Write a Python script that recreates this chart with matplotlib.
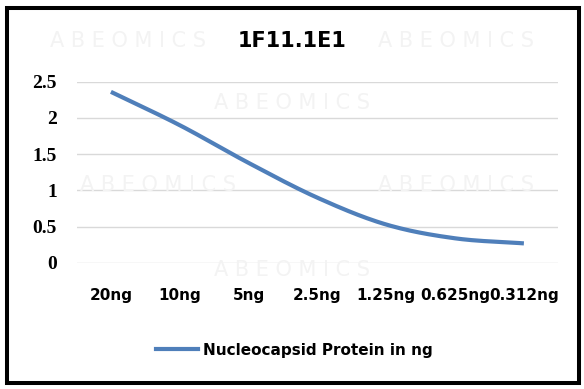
import numpy as np
import matplotlib.pyplot as plt
from matplotlib.patches import Rectangle
from matplotlib.lines import Line2D

# data
categories = ['20ng', '10ng', '5ng', '2.5ng', '1.25ng', '0.625ng', '0.312ng']
values = [2.36, 1.90, 1.38, 0.90, 0.53, 0.34, 0.27]
yticks = [0, 0.5, 1, 1.5, 2, 2.5]
ytick_labels = ['0', '0.5', '1', '1.5', '2', '2.5']

line_color = '#4f7fba'


def smooth(x, y, n=30):
    # Catmull-Rom curve through the points (like Excel's smoothed line)
    x = np.asarray(x, float)
    y = np.asarray(y, float)
    px = np.concatenate([[2 * x[0] - x[1]], x, [2 * x[-1] - x[-2]]])
    py = np.concatenate([[2 * y[0] - y[1]], y, [2 * y[-1] - y[-2]]])
    xs, ys = [], []
    t = np.linspace(0, 1, n)
    for i in range(1, len(px) - 2):
        for p, out in ((px, xs), (py, ys)):
            p0, p1, p2, p3 = p[i - 1], p[i], p[i + 1], p[i + 2]
            out.extend(0.5 * ((2 * p1) + (-p0 + p2) * t
                              + (2 * p0 - 5 * p1 + 4 * p2 - p3) * t ** 2
                              + (-p0 + 3 * p1 - 3 * p2 + p3) * t ** 3))
    return xs, ys


fig = plt.figure(figsize=(5.84, 3.89), dpi=100)
ax = fig.add_axes([0.131, 0.324, 0.825, 0.466])

# faint watermark
for (wx, wy) in [(0.22, 0.895), (0.78, 0.895), (0.5, 0.735), (0.27, 0.525),
                 (0.78, 0.525), (0.5, 0.305)]:
    fig.text(wx, wy, 'A B E O M I C S', color='#f3f3f3', fontsize=15,
             ha='center', va='center', zorder=0)

x = np.arange(len(categories))
sx, sy = smooth(x, values)
ax.plot(sx, sy, color=line_color, linewidth=3, solid_capstyle='butt', zorder=3)

ax.set_xlim(-0.5, len(categories) - 0.5)
ax.set_ylim(0, 2.5)
ax.set_yticks(yticks)
ax.set_yticklabels(ytick_labels, fontsize=14, fontweight='bold',
                   family='Liberation Serif')
ax.set_xticks(x)
ax.set_xticklabels(categories, fontsize=11, fontweight='bold',
                   family='DejaVu Sans')
ax.tick_params(axis='x', length=0, pad=18)
ax.tick_params(axis='y', length=0, pad=14)
ax.grid(axis='y', color='#d9d9d9', linewidth=1)
ax.set_axisbelow(True)
for s in ax.spines.values():
    s.set_visible(False)
ax.patch.set_alpha(0)

fig.text(0.5, 0.895, '1F11.1E1', ha='center', va='center', fontsize=15,
         fontweight='bold', family='DejaVu Sans')

# legend
fig.legend(handles=[Line2D([], [], color=line_color, linewidth=3)],
           labels=['Nucleocapsid Protein in ng'], loc='center',
           bbox_to_anchor=(0.504, 0.100), frameon=False, handlelength=2.8,
           handletextpad=0.33,
           prop={'weight': 'bold', 'size': 11, 'family': 'DejaVu Sans'})

# outer border
fig.patches.append(Rectangle((0.012, 0.0154), 0.9786, 0.9653, transform=fig.transFigure,
                             fill=False, edgecolor='black', linewidth=2.9))

fig.savefig('out.png', dpi=100)
